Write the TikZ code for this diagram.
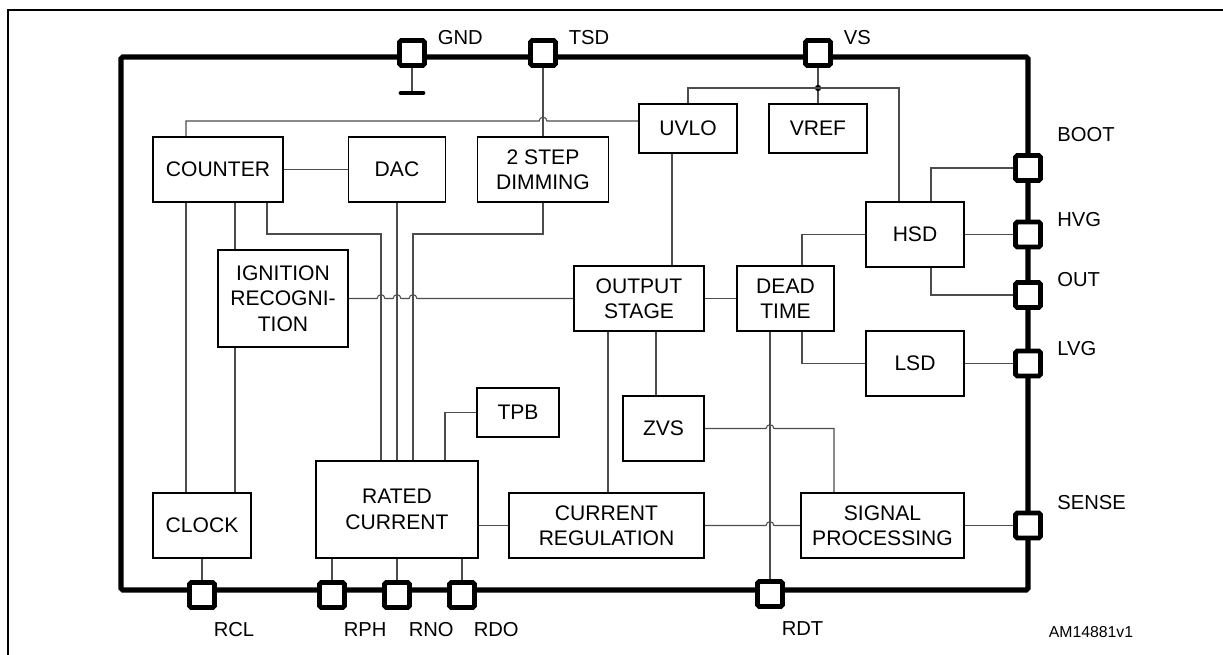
\documentclass[tikz,border=0pt]{standalone}
\usepackage{fontspec}
\setmainfont{Liberation Sans}
\usetikzlibrary{positioning, calc}

\begin{document}
\begin{tikzpicture}[x=0.02cm, y=-0.02cm,
    blk/.style={draw, line width=0.9pt, align=center, inner sep=0pt, font=\fontsize{12}{14.5}\selectfont},
    wire/.style={black!70, line width=0.6pt},
    pad/.style={draw, fill=white, line width=2.8pt, minimum size=0.5cm, inner sep=0pt, rounded corners=1pt},
    padlbl/.style={inner sep=1pt, font=\fontsize{11.5}{13}\selectfont}]
    \useasboundingbox (0,0) rectangle (1223,655);
    \draw[line width=0.8pt] (8,700) -- (8,10) -- (1240,10);
    % chip outline
    \draw[line width=3pt, rounded corners=1pt] (121,57) rectangle (1028,590);

    % pads
    \node[pad] (gnd) at (412,53) {};
    \node[pad] (tsd) at (543,53) {};
    \node[pad] (vs) at (818,53) {};
    \node[pad] (boot) at (1028,168) {};
    \node[pad] (hvg) at (1028,234.5) {};
    \node[pad] (outp) at (1028,295) {};
    \node[pad] (lvg) at (1028,363.5) {};
    \node[pad] (sense) at (1028,525.5) {};
    \node[pad] (rcl) at (202,595) {};
    \node[pad] (rph) at (332,595) {};
    \node[pad] (rno) at (397,595) {};
    \node[pad] (rdo) at (462,595) {};
    \node[pad] (rdt) at (770,594) {};

    \node[padlbl, right=5pt of gnd.north east] (gndlbl) {GND};
    \node[padlbl, right=5pt of tsd.north east] (tsdlbl) {TSD};
    \node[padlbl, right=5pt of vs.north east] (vslbl) {VS};
    \node[padlbl, above right=5pt and 7pt of boot.north east] (bootlbl) {BOOT};
    \node[padlbl, right=7pt of hvg.north east] (hvglbl) {HVG};
    \node[padlbl, right=7pt of outp.north east] (outlbl) {OUT};
    \node[padlbl, right=7pt of lvg.north east] (lvglbl) {LVG};
    \node[padlbl, above right=-1pt and 7pt of sense.north east] (senselbl) {SENSE};
    \node[padlbl, below right=6pt and -3pt of rcl.south east] (rcllbl) {RCL};
    \node[padlbl, below right=6pt and -3pt of rph.south east] (rphlbl) {RPH};
    \node[padlbl, below right=6pt and -3pt of rno.south east] (rnolbl) {RNO};
    \node[padlbl, below right=6pt and -3pt of rdo.south east] (rdolbl) {RDO};
    \node[padlbl, below right=6pt and -3pt of rdt.south east] (rdtlbl) {RDT};
    \node[inner sep=0pt, font=\fontsize{9}{10}\selectfont] (docid) at (1091,632) {AM14881v1};

    % blocks
    \node[blk, minimum width=2.6cm, minimum height=1.3cm] (counter) at (218,169.5) {COUNTER};
    \node[blk, minimum width=1.94cm, minimum height=1.3cm] (dac) at (397,169.5) {DAC};
    \node[blk, minimum width=2.62cm, minimum height=1.3cm] (dimming) at (543,169.5) {2 STEP\\DIMMING};
    \node[blk, minimum width=1.96cm, minimum height=0.98cm] (uvlo) at (688,128.5) {UVLO};
    \node[blk, minimum width=1.96cm, minimum height=0.98cm] (vref) at (818,128.5) {VREF};
    \node[blk, minimum width=1.96cm, minimum height=1.3cm] (hsd) at (915,234.5) {HSD};
    \node[blk, minimum width=2.6cm, minimum height=1.94cm] (ign) at (283,298.5) {IGNITION\\RECOGNI-\\TION};
    \node[blk, minimum width=2.6cm, minimum height=1.3cm] (ostage) at (639,298.5) {OUTPUT\\STAGE};
    \node[blk, minimum width=1.94cm, minimum height=1.3cm] (deadtime) at (785.5,298.5) {DEAD\\TIME};
    \node[blk, minimum width=1.96cm, minimum height=1.3cm] (lsd) at (915,363.5) {LSD};
    \node[blk, minimum width=1.62cm, minimum height=1.3cm] (zvs) at (663.5,428.5) {ZVS};
    \node[blk, minimum width=1.64cm, minimum height=0.98cm] (tpb) at (518,412.5) {TPB};
    \node[blk, minimum width=3.24cm, minimum height=1.94cm] (rated) at (397,509.5) {RATED\\CURRENT};
    \node[blk, minimum width=1.96cm, minimum height=1.3cm] (clock) at (202,525.5) {CLOCK};
    \node[blk, minimum width=3.9cm, minimum height=1.3cm] (curreg) at (606.5,525.5) {CURRENT\\REGULATION};
    \node[blk, minimum width=3.26cm, minimum height=1.3cm] (sigproc) at (882.5,525.5) {SIGNAL\\PROCESSING};

    % wires
    \draw[wire] (gnd.south) -- (gnd.south |- 0,93) coordinate (gndbar);
    \draw[line width=2.8pt, line cap=round] ($(gndbar)+(-11,0)$) -- ($(gndbar)+(11,0)$);
    \draw[wire] (tsd.south) -- (dimming.north);
    \draw[wire] (counter.north -| 186,0) |- ($(tsd.south |- 0,121)+(-2.2pt,0)$)
        arc[start angle=180, end angle=0, radius=2.2pt] -- (uvlo.west |- 0,121);
    \draw[wire] (vs.south) -- (vref.north);
    \fill (vref.north |- 0,88) circle[radius=1.8pt];
    \draw[wire] (uvlo.north) |- (vref.north |- 0,88) -| (hsd.north -| 899,0);
    \draw[wire] (boot.west) -| (hsd.north -| 931,0);
    \draw[wire] (hsd.east) -- (hvg.west);
    \draw[wire] (hsd.south -| 931,0) |- (outp.west);
    \draw[wire] (hsd.west) -| (deadtime.north -| 802,0);
    \draw[wire] (deadtime.south -| 802,0) |- (lsd.west);
    \draw[wire] (lsd.east) -- (lvg.west);
    \draw[wire] (ostage.east) -- (deadtime.west);
    \draw[wire] (uvlo.south -| 672,0) -- (ostage.north -| 672,0);
    \draw[wire] (counter.east) -- (dac.west);
    \draw[wire] (counter.south -| 186,0) -- (clock.north -| 186,0);
    \draw[wire] (counter.south -| 235,0) -- (ign.north -| 235,0);
    \draw[wire] (ign.south -| 235,0) -- (clock.north -| 235,0);
    \draw[wire] (counter.south -| 267,0) |- (381,234) -- (rated.north -| 381,0);
    \draw[wire] (dac.south) -- (rated.north);
    \draw[wire] (dimming.south) |- (413,234) -- (rated.north -| 413,0);
    \draw[wire] (ign.east) -- ($(ign.east -| 381,0)+(-2.2pt,0)$)
        arc[start angle=180, end angle=0, radius=2.2pt] -- ($(ign.east -| 397,0)+(-2.2pt,0)$)
        arc[start angle=180, end angle=0, radius=2.2pt] -- ($(ign.east -| 413,0)+(-2.2pt,0)$)
        arc[start angle=180, end angle=0, radius=2.2pt] -- (ostage.west);
    \draw[wire] (tpb.west) -| (rated.north -| 445,0);
    \draw[wire] (ostage.south -| 656,0) -- (zvs.north -| 656,0);
    \draw[wire] (ostage.south -| 608,0) -- (curreg.north -| 608,0);
    \draw[wire] (deadtime.south -| rdt) -- (rdt.north);
    \draw[wire] (zvs.east) -- ($(zvs.east -| rdt)+(-2.2pt,0)$)
        arc[start angle=180, end angle=0, radius=2.2pt] -| (sigproc.north -| 834,0);
    \draw[wire] (rated.east |- curreg.west) -- (curreg.west);
    \draw[wire] (curreg.east) -- ($(curreg.east -| rdt)+(-2.2pt,0)$)
        arc[start angle=180, end angle=0, radius=2.2pt] -- (sigproc.west);
    \draw[wire] (sigproc.east) -- (sense.west);
    \draw[wire] (clock.south) -- (rcl.north);
    \draw[wire] (rated.south -| rph) -- (rph.north);
    \draw[wire] (rated.south -| rno) -- (rno.north);
    \draw[wire] (rated.south -| rdo) -- (rdo.north);
\end{tikzpicture}
\end{document}
